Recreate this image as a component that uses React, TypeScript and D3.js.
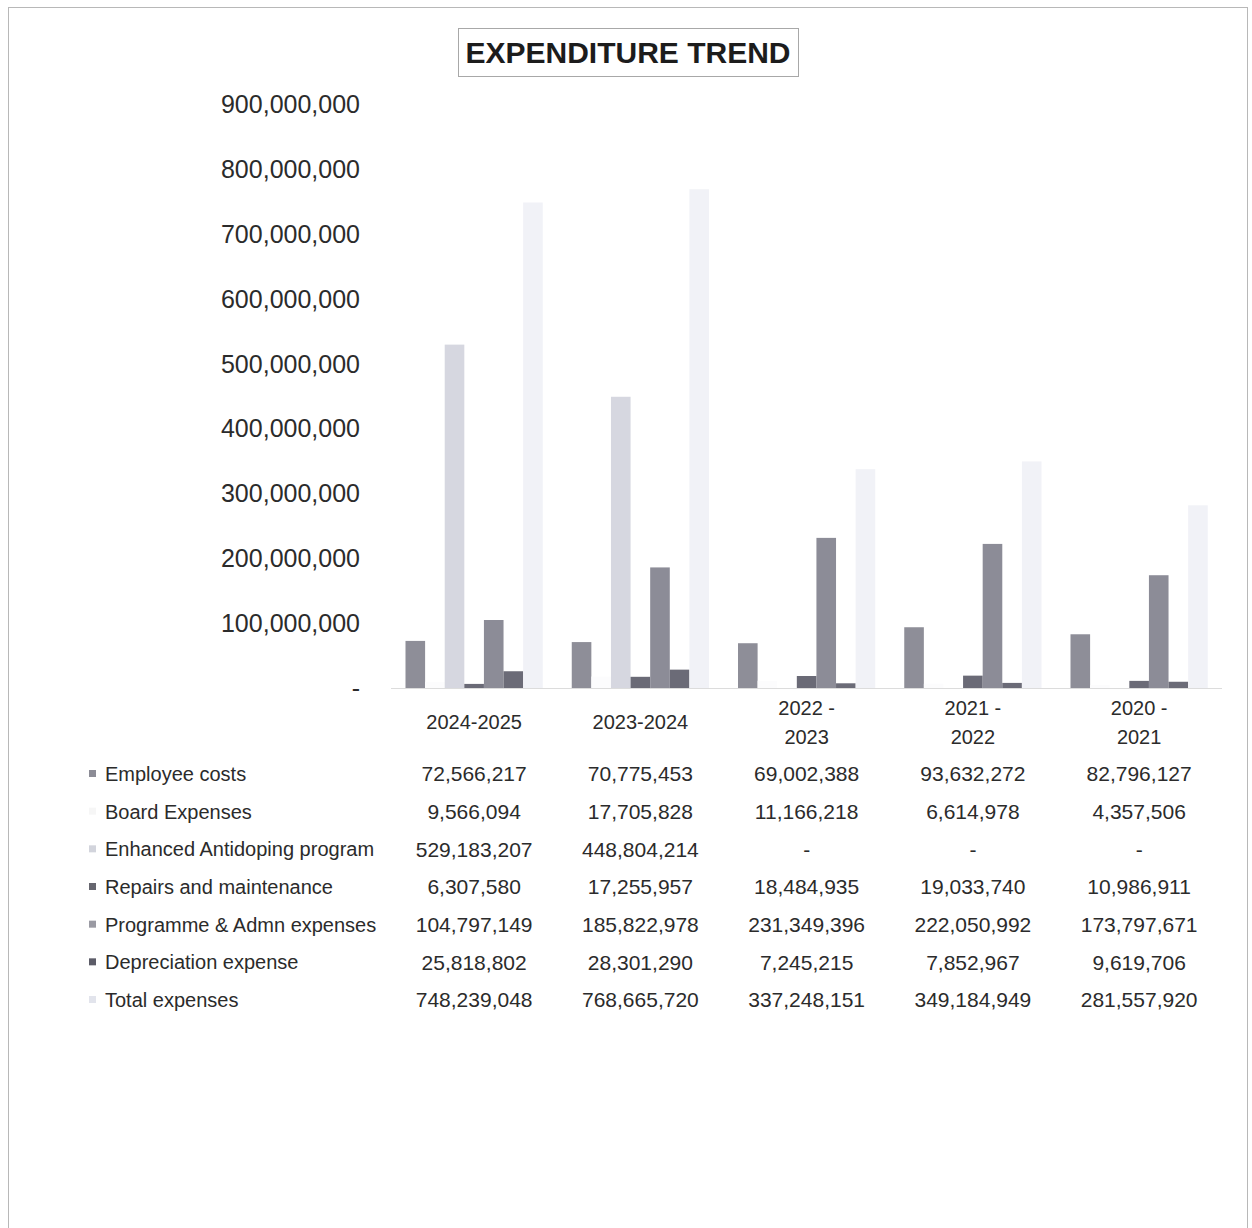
import React from "react";
import * as d3 from "d3";

const categories = ["2024-2025", "2023-2024", "2022 - 2023", "2021 - 2022", "2020 - 2021"];
const categoryLines = [["2024-2025"], ["2023-2024"], ["2022 -", "2023"], ["2021 -", "2022"], ["2020 -", "2021"]];

const seriesNames = [
  "Employee costs",
  "Board Expenses",
  "Enhanced Antidoping program",
  "Repairs and maintenance",
  "Programme & Admn expenses",
  "Depreciation  expense",
  "Total expenses",
];

const employeeCosts = [72566217, 70775453, 69002388, 93632272, 82796127];
const boardExpenses = [9566094, 17705828, 11166218, 6614978, 4357506];
const enhancedAntidoping = [529183207, 448804214, 0, 0, 0];
const repairsMaintenance = [6307580, 17255957, 18484935, 19033740, 10986911];
const programmeAdmn = [104797149, 185822978, 231349396, 222050992, 173797671];
const depreciation = [25818802, 28301290, 7245215, 7852967, 9619706];
const totalExpenses = [748239048, 768665720, 337248151, 349184949, 281557920];

// Text as printed in the data table
const employeeText = ["72,566,217", "70,775,453", "69,002,388", "93,632,272", "82,796,127"];
const boardText = ["9,566,094", "17,705,828", "11,166,218", "6,614,978", "4,357,506"];
const enhancedText = ["529,183,207", "448,804,214", "-", "-", "-"];
const repairsText = ["6,307,580", "17,255,957", "18,484,935", "19,033,740", "10,986,911"];
const programmeText = ["104,797,149", "185,822,978", "231,349,396", "222,050,992", "173,797,671"];
const depreciationText = ["25,818,802", "28,301,290", "7,245,215", "7,852,967", "9,619,706"];
const totalText = ["748,239,048", "768,665,720", "337,248,151", "349,184,949", "281,557,920"];

const yTicks = [0, 100000000, 200000000, 300000000, 400000000, 500000000, 600000000, 700000000, 800000000, 900000000];

const seriesValues = [employeeCosts, boardExpenses, enhancedAntidoping, repairsMaintenance, programmeAdmn, depreciation, totalExpenses];
const seriesText = [employeeText, boardText, enhancedText, repairsText, programmeText, depreciationText, totalText];

const barColors = ["#8e8e98", "#fcfcfd", "#d6d7e0", "#6a6a76", "#8c8c97", "#6b6b77", "#f1f2f7"];
const markerColors = ["#8c8c96", "#f6f6f6", "#d2d4dc", "#66666f", "#9a9aa3", "#5c5c68", "#e2e4ec"];

const FONT = "'Liberation Sans', Arial, sans-serif";
const TEXT = "#2b2b2b";

export default function App() {
  const W = 1252;
  const H = 1228;

  const x = d3.scaleBand<string>().domain(categories).range([391, 1222.25]).paddingInner(0).paddingOuter(0);
  const xs = d3.scaleBand<string>().domain(seriesNames).range([14.5, 151.75]).paddingInner(0);
  const y = d3.scaleLinear().domain([0, 900000000]).range([688, 104]);
  const fmt = d3.format(",");

  const rowY = d3.scaleLinear().domain([0, 6]).range([774, 1000]);

  return (
    <svg width={W} height={H} style={{ position: "absolute", left: 0, top: 0, background: "#fff" }} fontFamily={FONT}>
      <rect x={0} y={0} width={W} height={H} fill="#fff" />
      <rect x={8.5} y={7.5} width={1239} height={1240} fill="none" stroke="#b8b8b8" strokeWidth={1} />

      {/* Title */}
      <rect x={458.5} y={28.5} width={340} height={48} fill="#fff" stroke="#a8a8a8" strokeWidth={1} />
      <text x={628} y={63} textAnchor="middle" fontSize={30} fontWeight="bold" fill="#1c1c1c">
        EXPENDITURE TREND
      </text>

      {/* Y axis labels */}
      {yTicks.map((t) => (
        <text key={t} x={360} y={y(t)} dy="0.36em" textAnchor="end" fontSize={25} fill={TEXT}>
          {t === 0 ? "-" : fmt(t)}
        </text>
      ))}

      {/* Bars */}
      {categories.map((c, ci) => (
        <g key={c} transform={`translate(${x(c)},0)`}>
          {seriesNames.map((s, si) => {
            const v = seriesValues[si][ci];
            if (!v) return null;
            return (
              <rect
                key={s}
                x={xs(s)}
                y={y(v)}
                width={xs.bandwidth()}
                height={y(0) - y(v)}
                fill={barColors[si]}
              />
            );
          })}
        </g>
      ))}

      {/* Axis line */}
      <line x1={391} x2={1222} y1={688.5} y2={688.5} stroke="#dcdcdc" strokeWidth={1} />

      {/* Category labels */}
      {categories.map((c, ci) => {
        const cx = (x(c) as number) + x.bandwidth() / 2;
        const lines = categoryLines[ci];
        return (
          <text key={c} x={cx} textAnchor="middle" fontSize={20} fill={TEXT}>
            {lines.length === 1 ? (
              <tspan x={cx} y={722} dy="0.35em">{lines[0]}</tspan>
            ) : (
              lines.map((l, li) => (
                <tspan key={li} x={cx} y={708 + li * 29} dy="0.35em">{l}</tspan>
              ))
            )}
          </text>
        );
      })}

      {/* Data table */}
      {seriesNames.map((s, si) => (
        <g key={s}>
          <rect x={89} y={rowY(si) - 4} width={7} height={7} fill={markerColors[si]} />
          <text x={105} y={rowY(si)} dy="0.35em" fontSize={20} fill={TEXT}>
            {s}
          </text>
          {categories.map((c, ci) => (
            <text
              key={c}
              x={(x(c) as number) + x.bandwidth() / 2}
              y={rowY(si)}
              dy="0.35em"
              textAnchor="middle"
              fontSize={21}
              fill={TEXT}
            >
              {seriesText[si][ci]}
            </text>
          ))}
        </g>
      ))}
    </svg>
  );
}
